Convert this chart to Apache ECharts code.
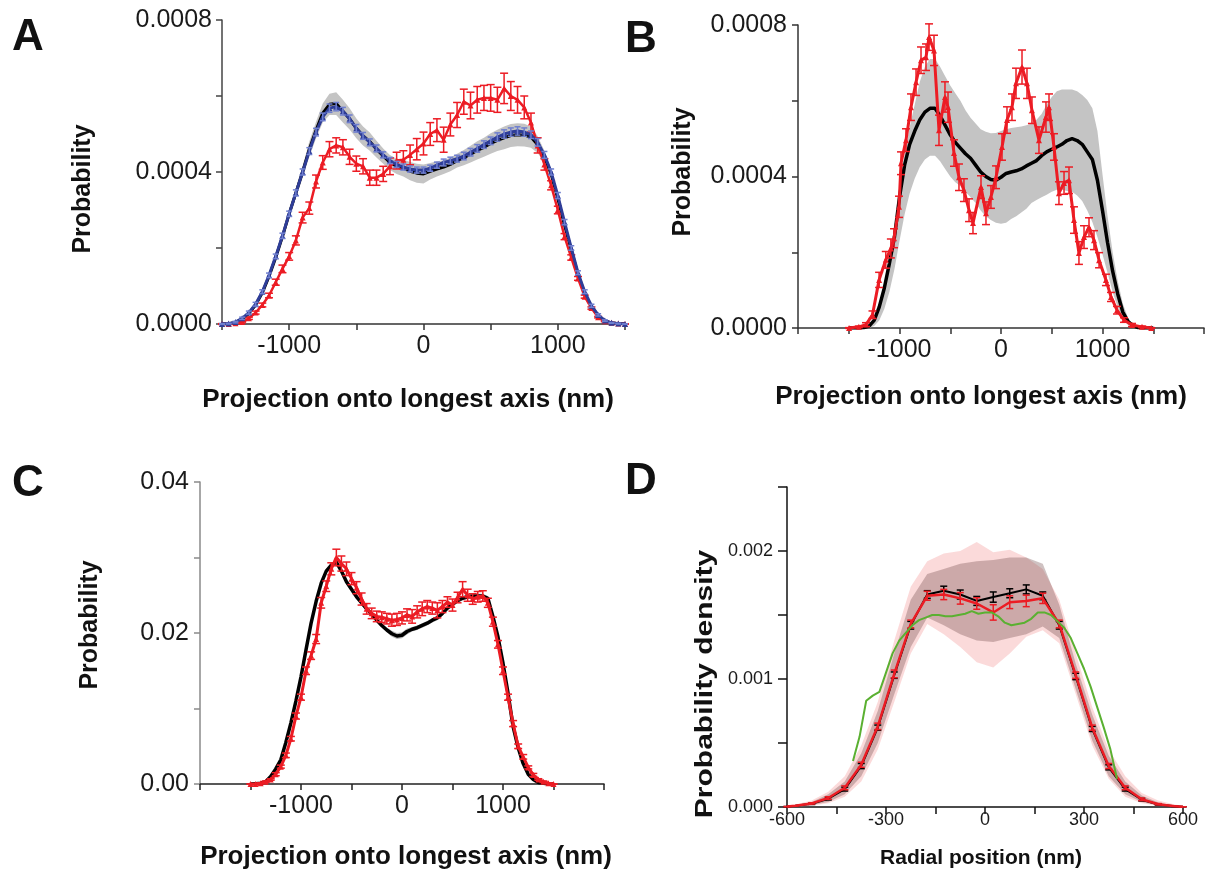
<!DOCTYPE html>
<html>
<head>
<meta charset="utf-8">
<script src="https://cdn.jsdelivr.net/npm/echarts@6/dist/echarts.min.js"></script>
<style>
  html, body { margin: 0; padding: 0; background: #fff; }
  #chart { width: 1207px; height: 874px; }
</style>
</head>
<body>
<div id="chart"></div>
<script>
// sampling positions (nm) for panels A, B, C
const xProj = [-1500,-1450,-1400,-1350,-1300,-1250,-1200,-1150,-1100,-1050,-1000,-950,-900,-850,-800,-750,-700,-650,-600,-550,-500,-450,-400,-350,-300,-250,-200,-150,-100,-50,0,50,100,150,200,250,300,350,400,450,500,550,600,650,700,750,800,850,900,950,1000,1050,1100,1150,1200,1250,1300,1350,1400,1450,1500]

// panel A, values in units of 1e-4
const blackA = [0,0.01,0.04,0.12,0.28,0.5,0.82,1.25,1.75,2.3, 2.9,3.45,4.0,4.6,5.1,5.55,5.78,5.8,5.6,5.4, 5.15,4.95,4.8,4.6,4.42,4.25,4.15,4.1,4.02,3.97, 3.95,4.02,4.08,4.13,4.2,4.3,4.38,4.47,4.57,4.65, 4.75,4.83,4.9,4.96,4.98,4.97,4.92,4.72,4.4,3.95, 3.3,2.6,1.95,1.3,0.8,0.45,0.22,0.08,0.03,0.01, 0]
const bandA = [0,0,0.01,0.02,0.03,0.04,0.05,0.06,0.08,0.1, 0.12,0.14,0.16,0.2,0.22,0.25,0.28,0.3,0.3,0.28, 0.26,0.25,0.24,0.22,0.2,0.2,0.2,0.22,0.24,0.25, 0.25,0.22,0.2,0.18,0.18,0.18,0.2,0.22,0.24,0.25, 0.27,0.28,0.3,0.3,0.3,0.3,0.28,0.22,0.16,0.12, 0.1,0.08,0.07,0.06,0.05,0.04,0.03,0.02,0.01,0, 0]
const blueA = [0,0.01,0.05,0.15,0.3,0.52,0.85,1.28,1.78,2.32, 2.9,3.45,4.0,4.55,5.05,5.45,5.68,5.72,5.6,5.4, 5.15,4.95,4.78,4.62,4.45,4.3,4.2,4.13,4.08,4.05, 4.05,4.1,4.18,4.25,4.3,4.35,4.42,4.52,4.62,4.72, 4.82,4.92,5.0,5.05,5.08,5.05,4.98,4.78,4.45,4.0, 3.38,2.68,2.0,1.35,0.85,0.48,0.24,0.09,0.03,0.01, 0]
const blueErrA = [0.01,0.01,0.02,0.03,0.04,0.05,0.05,0.06,0.06,0.07, 0.07,0.08,0.08,0.09,0.1,0.1,0.11,0.11,0.1,0.1, 0.1,0.09,0.09,0.09,0.08,0.08,0.08,0.08,0.08,0.08, 0.08,0.08,0.08,0.09,0.09,0.09,0.1,0.1,0.1,0.1, 0.1,0.11,0.11,0.11,0.11,0.11,0.1,0.1,0.09,0.08, 0.08,0.07,0.06,0.05,0.05,0.04,0.03,0.02,0.01,0.01, 0]
const redA = [0,0,0.02,0.05,0.15,0.3,0.5,0.75,1.1,1.45, 1.78,2.2,2.8,3.05,3.75,4.25,4.6,4.7,4.65,4.4, 4.22,4.15,3.85,3.85,3.95,4.15,4.3,4.32,4.45,4.6, 4.75,5.0,5.1,4.85,5.25,5.5,5.85,5.75,5.9,5.95, 5.95,5.9,6.2,6.0,5.9,5.7,5.3,4.7,4.2,3.65, 3.0,2.3,1.75,1.2,0.72,0.42,0.18,0.07,0.03,0.01, 0]
const redErrA = [0.01,0.01,0.01,0.02,0.03,0.04,0.05,0.06,0.08,0.1, 0.1,0.12,0.14,0.16,0.17,0.18,0.2,0.2,0.2,0.2, 0.2,0.2,0.2,0.2,0.2,0.22,0.22,0.24,0.26,0.28, 0.3,0.3,0.3,0.33,0.3,0.33,0.33,0.35,0.35,0.33, 0.35,0.33,0.4,0.38,0.35,0.3,0.25,0.2,0.15,0.12, 0.1,0.08,0.07,0.05,0.04,0.03,0.02,0.01,0.01,0.01, 0]

// panel B, values in units of 1e-4
const blackB = [0,0,0,0.01,0.05,0.2,0.55,1.05,1.7,2.4, 3.45,4.3,4.85,5.2,5.5,5.7,5.8,5.8,5.6,5.35, 5.1,4.9,4.75,4.6,4.48,4.3,4.12,4.0,3.92,3.9, 3.98,4.08,4.12,4.15,4.2,4.28,4.35,4.42,4.55,4.65, 4.72,4.78,4.85,4.95,5.0,4.95,4.85,4.65,4.45,3.9, 3.1,2.25,1.5,0.9,0.42,0.18,0.06,0.01,0,0, 0]
const upperB = [0,0,0,0.02,0.06,0.25,0.6,1.15,1.85,2.6, 3.7,4.6,5.3,5.9,6.5,6.9,7.1,7.1,6.9,6.65, 6.4,6.2,6.0,5.75,5.55,5.4,5.25,5.18,5.14,5.15, 5.2,5.25,5.28,5.3,5.32,5.35,5.4,5.5,5.65,5.9, 6.1,6.25,6.3,6.3,6.3,6.25,6.15,6.02,5.8,5.2, 4.05,2.95,2.0,1.25,0.65,0.28,0.08,0.02,0,0, 0]
const lowerB = [0,0,0,0,0,0.05,0.2,0.5,0.95,1.55, 2.3,3.0,3.55,3.95,4.25,4.45,4.55,4.55,4.4,4.2, 4.0,3.85,3.75,3.6,3.45,3.3,3.1,2.95,2.85,2.78, 2.75,2.78,2.88,2.95,3.05,3.15,3.3,3.38,3.45,3.52, 3.6,3.65,3.65,3.62,3.6,3.5,3.35,3.1,2.8,2.4, 1.95,1.45,0.95,0.55,0.25,0.08,0.02,0,0,0, 0]
const xRedB = [-1497,-1400,-1330,-1266,-1201,-1135,-1085,-1054,-1005,-985,-936,-887,-837,-788,-739,-709,-660,-611,-552,-522,-463,-414,-365,-315,-276,-197,-148,-99,-49,10,59,108,148,207,256,305,374,443,473,522,571,621,670,719,768,818,867,916,966,1034,1084,1143,1212,1291,1389,1480]
const redB = [0,0.03,0.09,0.35,1.27,1.8,2.1,2.37,3.2,4.35,4.96,5.83,6.49,7.07,7.15,7.68,7.33,5.22,6.1,5.83,4.62,3.98,3.64,3.11,2.77,3.72,3.03,3.46,3.98,4.78,5.49,5.83,6.46,6.89,6.46,5.75,4.96,5.57,5.83,4.78,3.56,3.83,3.9,2.85,1.98,2.4,2.66,2.32,1.79,1.27,0.82,0.47,0.21,0.08,0.03,0]
const redErrB = [0.01,0.02,0.05,0.1,0.2,0.22,0.25,0.25,0.28,0.3, 0.3,0.35,0.35,0.35,0.35,0.35,0.4,0.4,0.4,0.4, 0.35,0.35,0.3,0.3,0.28,0.3,0.3,0.3,0.3,0.35, 0.35,0.35,0.4,0.45,0.4,0.35,0.35,0.4,0.35,0.35, 0.3,0.3,0.35,0.35,0.3,0.3,0.25,0.25,0.2,0.15, 0.12,0.1,0.06,0.04,0.02,0.01]

// panel C, values in units of 1e-2
const blackC = [0,0.005,0.01,0.03,0.1,0.2,0.32,0.55,0.81,1.1, 1.42,1.78,2.13,2.42,2.66,2.82,2.9,2.94,2.82,2.68, 2.58,2.48,2.4,2.32,2.25,2.17,2.1,2.04,1.99,1.96, 1.97,2.02,2.05,2.07,2.1,2.13,2.17,2.2,2.26,2.33, 2.38,2.43,2.46,2.48,2.49,2.49,2.49,2.46,2.22,1.95, 1.6,1.2,0.76,0.48,0.27,0.13,0.06,0.02,0.01,0, 0]
const bandC = [0,0,0,0,0.01,0.01,0.01,0.02,0.02,0.02, 0.02,0.02,0.03,0.03,0.03,0.03,0.03,0.03,0.03,0.03, 0.03,0.03,0.03,0.03,0.03,0.03,0.03,0.03,0.04,0.04, 0.04,0.04,0.03,0.03,0.03,0.03,0.03,0.03,0.03,0.03, 0.03,0.03,0.03,0.03,0.03,0.03,0.03,0.03,0.03,0.02, 0.02,0.02,0.02,0.02,0.01,0.01,0.01,0,0,0, 0]
const redC = [0,0,0.01,0.03,0.06,0.13,0.23,0.38,0.6,0.9, 1.15,1.5,1.7,1.92,2.4,2.62,2.85,3.0,2.92,2.85, 2.72,2.6,2.45,2.32,2.26,2.22,2.21,2.19,2.17,2.18, 2.2,2.24,2.22,2.28,2.32,2.35,2.33,2.3,2.35,2.41, 2.37,2.47,2.58,2.5,2.45,2.48,2.49,2.4,2.15,1.85, 1.5,1.15,0.8,0.5,0.36,0.22,0.12,0.06,0.03,0.01, 0]
const redErrC = [0,0,0.005,0.01,0.01,0.02,0.02,0.03,0.03,0.04, 0.04,0.05,0.05,0.06,0.07,0.07,0.08,0.11,0.1,0.09, 0.08,0.08,0.08,0.07,0.07,0.07,0.07,0.07,0.08,0.08, 0.08,0.08,0.09,0.08,0.09,0.08,0.08,0.1,0.08,0.07, 0.08,0.07,0.1,0.08,0.07,0.07,0.07,0.06,0.06,0.05, 0.05,0.04,0.04,0.03,0.03,0.02,0.02,0.01,0.01,0, 0]

// panel D, values in units of 1e-3
const xRadial = [-600,-575,-525,-475,-425,-375,-325,-275,-225,-175,-125,-75,-25,25,75,125,175,225,275,325,375,425,475,525,575,600]
const blackD = [0.003,0.01,0.025,0.065,0.14,0.32,0.62,1.03,1.42,1.66,1.69,1.66,1.61,1.64,1.67,1.7,1.65,1.42,1.02,0.61,0.31,0.14,0.057,0.02,0.005,0.002]
const blackErrD = [0,0,0.005,0.01,0.015,0.02,0.02,0.025,0.03,0.03,0.035,0.035,0.035,0.04,0.035,0.035,0.03,0.03,0.025,0.02,0.02,0.015,0.01,0.005,0,0]
const redD = [0.003,0.01,0.028,0.07,0.15,0.33,0.63,1.04,1.43,1.65,1.66,1.63,1.59,1.52,1.6,1.61,1.63,1.43,1.03,0.62,0.32,0.15,0.06,0.022,0.006,0.002]
const redErrD = [0,0,0.005,0.01,0.015,0.02,0.025,0.03,0.03,0.035,0.04,0.045,0.045,0.06,0.05,0.045,0.04,0.03,0.025,0.02,0.02,0.015,0.01,0.005,0,0]
const pinkUpperD = [0.01,0.02,0.05,0.12,0.24,0.48,0.82,1.3,1.72,1.92,1.98,2.0,2.07,1.99,2.01,1.95,1.86,1.62,1.2,0.78,0.45,0.24,0.11,0.05,0.02,0.01]
const pinkLowerD = [0,0,0.01,0.03,0.08,0.2,0.45,0.82,1.2,1.43,1.35,1.25,1.13,1.09,1.2,1.33,1.38,1.28,0.88,0.48,0.22,0.08,0.03,0.01,0,0]
const darkUpperD = [0.005,0.015,0.04,0.1,0.2,0.42,0.75,1.2,1.62,1.82,1.86,1.9,1.92,1.93,1.95,1.95,1.9,1.58,1.12,0.72,0.4,0.2,0.09,0.035,0.01,0.005]
const darkLowerD = [0,0.005,0.015,0.04,0.1,0.24,0.5,0.88,1.25,1.48,1.42,1.35,1.3,1.29,1.32,1.35,1.41,1.32,0.92,0.52,0.24,0.1,0.04,0.012,0.003,0]
const xGreenD = [-400,-380,-360,-340,-320,-300,-280,-260,-240,-220,-200,-180,-160,-140,-120,-100,-80,-60,-40,-20,0,20,40,60,80,100,120,140,160,180,200,220,240,260,280,300,320,340,360,380,400]
const greenD = [0.36,0.55,0.83,0.87,0.9,1.05,1.2,1.3,1.36,1.42,1.46,1.48,1.5,1.5,1.49,1.49,1.5,1.51,1.53,1.51,1.52,1.52,1.49,1.44,1.42,1.43,1.44,1.47,1.52,1.52,1.5,1.45,1.4,1.32,1.2,1.08,0.94,0.78,0.62,0.45,0.22]

const FONT = 'Liberation Sans, Arial, sans-serif'
const RED = '#ec1c24'
const BLUE = '#2e3d98'
const GREEN = '#5ab031'

function pairs(xs, ys, k) {
  return xs.map((x, i) => [x, ys[i] * k])
}

function line(g, xs, ys, k, color, width, symbol, z) {
  return {
    type: 'line', xAxisIndex: g, yAxisIndex: g,
    data: pairs(xs, ys, k),
    showSymbol: !!symbol, symbol: symbol || 'none', symbolSize: 6,
    lineStyle: { color: color, width: width },
    itemStyle: { color: color },
    silent: true, animation: false, z: z
  }
}

function errors(g, xs, ys, es, k, color, cap, z) {
  return {
    type: 'custom', xAxisIndex: g, yAxisIndex: g, silent: true, animation: false, z: z,
    data: xs.map((x, i) => [x, (ys[i] - es[i]) * k, (ys[i] + es[i]) * k]),
    renderItem: (params, api) => {
      const x = api.value(0)
      const top = api.coord([x, api.value(2)])
      const bot = api.coord([x, api.value(1)])
      const st = { stroke: color, lineWidth: 1.5 }
      return {
        type: 'group',
        children: [
          { type: 'line', shape: { x1: top[0], y1: top[1], x2: bot[0], y2: bot[1] }, style: st },
          { type: 'line', shape: { x1: top[0] - cap, y1: top[1], x2: top[0] + cap, y2: top[1] }, style: st },
          { type: 'line', shape: { x1: bot[0] - cap, y1: bot[1], x2: bot[0] + cap, y2: bot[1] }, style: st }
        ]
      }
    }
  }
}

function band(g, xs, lo, hi, k, fill, z) {
  return {
    type: 'custom', xAxisIndex: g, yAxisIndex: g, silent: true, animation: false, z: z,
    data: [[xs[0], 0]],
    renderItem: (params, api) => {
      const pts = []
      xs.forEach((x, i) => pts.push(api.coord([x, hi[i] * k])))
      for (let i = xs.length - 1; i >= 0; i--) pts.push(api.coord([xs[i], lo[i] * k]))
      return { type: 'polygon', shape: { points: pts }, style: { fill: fill } }
    }
  }
}

function axis(g, min, max, interval, fmt, size, margin, color, tick) {
  return {
    gridIndex: g, type: 'value', min: min, max: max, interval: interval,
    axisLine: { show: true, onZero: false, lineStyle: { color: color, width: 1.5 } },
    axisTick: { show: true, length: tick, lineStyle: { color: color, width: 1.5 } },
    splitLine: { show: false },
    axisLabel: { formatter: fmt, fontSize: size, color: '#1a1a1a', fontFamily: FONT, margin: margin }
  }
}

function text(t, x, y, size, opts) {
  opts = opts || {}
  return {
    type: 'text', x: x, y: y, rotation: opts.rot || 0, scaleX: opts.sx || 1, silent: true,
    style: {
      text: t, fill: '#111', align: opts.align || 'center', verticalAlign: 'middle',
      font: 'bold ' + size + 'px ' + FONT
    }
  }
}

const fmtProj = v => (v % 1000 === 0 && Math.abs(v) < 1500) ? String(v) : ''
const fmtP4 = v => (Math.round(v * 1e4) % 4 === 0) ? v.toFixed(4) : ''
const fmtP2 = v => (Math.round(v * 100) % 2 === 0) ? v.toFixed(2) : ''
const fmtP3 = v => (Math.round(v * 1e4) % 10 === 0) ? v.toFixed(3) : ''
const fmtRad = v => (v % 300 === 0) ? String(v) : ''

const chart = echarts.init(document.getElementById('chart'))

const xName = 'Projection onto longest axis (nm)'

let option = {
  backgroundColor: '#fff',
  animation: false,
  grid: [
    { left: 222, top: 20, width: 403, height: 304, outerBoundsMode: 'none' },
    { left: 798, top: 25, width: 406, height: 303, outerBoundsMode: 'none' },
    { left: 200, top: 482, width: 404, height: 302, outerBoundsMode: 'none' },
    { left: 787, top: 487, width: 396, height: 320, outerBoundsMode: 'none' }
  ],
  xAxis: [
    axis(0, -1500, 1500, 500, fmtProj, 25, 10, '#333', 6),
    axis(1, -2000, 2000, 500, fmtProj, 25, 10, '#333', 6),
    axis(2, -2000, 2000, 500, fmtProj, 25, 10, '#222', 6),
    axis(3, -600, 600, 150, fmtRad, 18, 4, '#111', 7)
  ],
  yAxis: [
    axis(0, 0, 0.0008, 0.0002, fmtP4, 25, 10, '#444', 6),
    axis(1, 0, 0.0008, 0.0002, fmtP4, 25, 11, '#333', 6),
    axis(2, 0, 0.04, 0.01, fmtP2, 25, 11, '#8a8a8a', 6),
    axis(3, 0, 0.0025, 0.0005, fmtP3, 18, 14, '#111', 9)
  ],
  graphic: [
    text('A', 12, 38, 44, { align: 'left' }),
    text('B', 625, 40, 44, { align: 'left' }),
    text('C', 12, 484, 44, { align: 'left' }),
    text('D', 625, 482, 44, { align: 'left' }),
    text(xName, 408, 400, 26),
    text(xName, 981, 397, 26),
    text(xName, 406, 857, 26),
    text('Radial position (nm)', 981, 858, 21),
    text('Probability', 83, 189, 25, { rot: Math.PI / 2 }),
    text('Probability', 683, 172, 25, { rot: Math.PI / 2 }),
    text('Probability', 90, 625, 25, { rot: Math.PI / 2 }),
    text('Probability density', 705, 684, 24, { rot: Math.PI / 2, sx: 1.25 })
  ],
  series: [
    // A
    band(0, xProj, blackA.map((v, i) => v - bandA[i]), blackA.map((v, i) => v + bandA[i]), 1e-4, '#c4c4c4', 1),
    line(0, xProj, blackA, 1e-4, '#000', 3, null, 2),
    line(0, xProj, redA, 1e-4, RED, 2.5, 'triangle', 3),
    errors(0, xProj, redA, redErrA, 1e-4, RED, 4, 4),
    line(0, xProj, blueA, 1e-4, BLUE, 3, 'triangle', 5),
    errors(0, xProj, blueA, blueErrA, 1e-4, '#6f7fcf', 3, 6),
    // B
    band(1, xProj, lowerB, upperB, 1e-4, '#c4c4c4', 1),
    line(1, xProj, blackB, 1e-4, '#000', 3.5, null, 2),
    line(1, xRedB, redB, 1e-4, RED, 3, 'triangle', 3),
    errors(1, xRedB, redB, redErrB, 1e-4, RED, 4, 4),
    // C
    band(2, xProj, blackC.map((v, i) => v - bandC[i]), blackC.map((v, i) => v + bandC[i]), 1e-2, '#b8b8b8', 1),
    line(2, xProj, blackC, 1e-2, '#000', 3.5, null, 2),
    line(2, xProj, redC, 1e-2, RED, 3, 'triangle', 3),
    errors(2, xProj, redC, redErrC, 1e-2, RED, 4, 4),
    // D
    band(3, xRadial, pinkLowerD, pinkUpperD, 1e-3, 'rgba(242,140,140,0.32)', 1),
    band(3, xRadial, darkLowerD, darkUpperD, 1e-3, 'rgba(110,70,70,0.33)', 1),
    line(3, xRadial, blackD, 1e-3, '#000', 2, null, 2),
    errors(3, xRadial, blackD, blackErrD, 1e-3, '#000', 3.5, 3),
    line(3, xRadial, redD, 1e-3, RED, 2.5, null, 4),
    errors(3, xRadial, redD, redErrD, 1e-3, RED, 3.5, 5),
    line(3, xGreenD, greenD, 1e-3, GREEN, 2, null, 6)
  ]
}

chart.setOption(option)
</script>
</body>
</html>
